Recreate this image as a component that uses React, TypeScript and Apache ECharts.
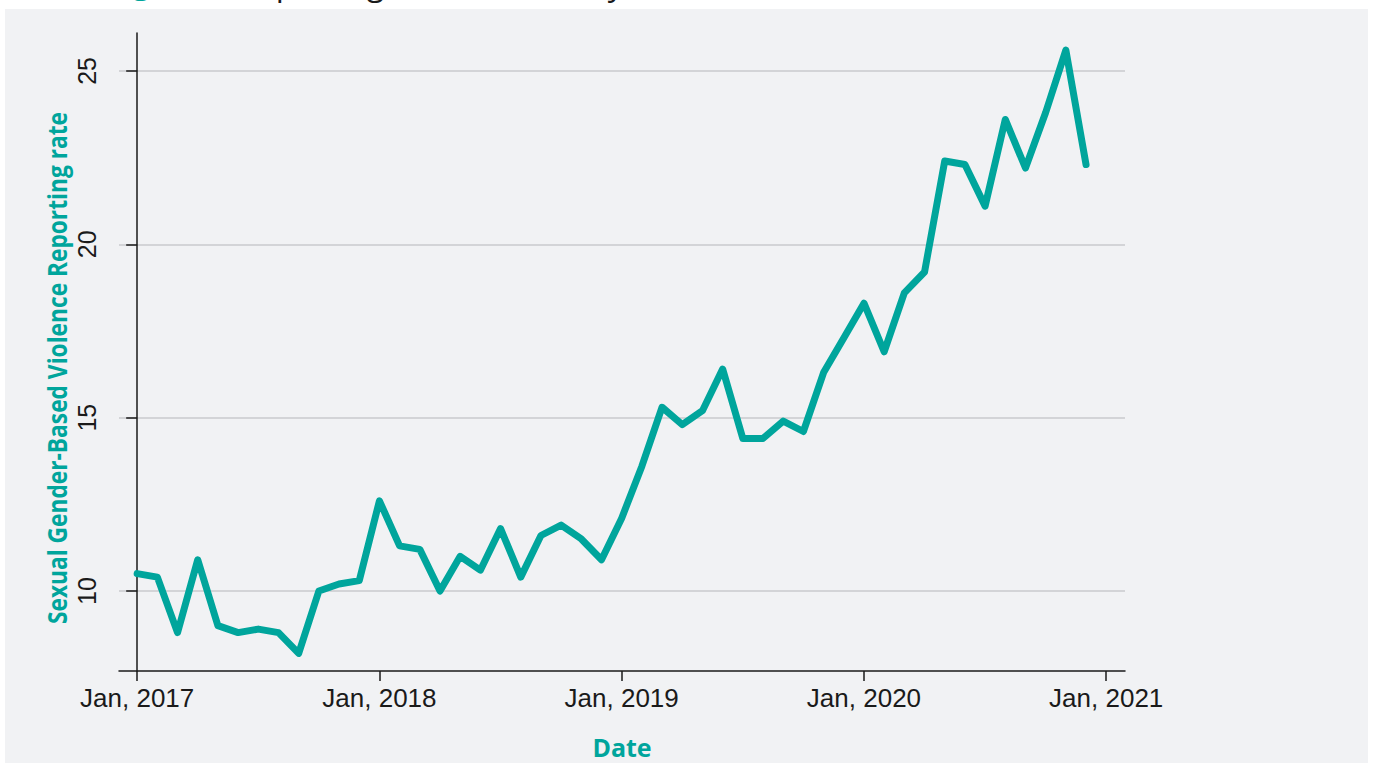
import React, { useEffect, useRef } from "react";
import * as echarts from "echarts";

const months: string[] = [
  "2017-01","2017-02","2017-03","2017-04","2017-05","2017-06","2017-07","2017-08","2017-09","2017-10","2017-11","2017-12",
  "2018-01","2018-02","2018-03","2018-04","2018-05","2018-06","2018-07","2018-08","2018-09","2018-10","2018-11","2018-12",
  "2019-01","2019-02","2019-03","2019-04","2019-05","2019-06","2019-07","2019-08","2019-09","2019-10","2019-11","2019-12",
  "2020-01","2020-02","2020-03","2020-04","2020-05","2020-06","2020-07","2020-08","2020-09","2020-10","2020-11","2020-12",
];

const reportingRate: number[] = [
  10.5, 10.4, 8.8, 10.9, 9.0, 8.8, 8.9, 8.8, 8.2, 10.0, 10.2, 10.3,
  12.6, 11.3, 11.2, 10.0, 11.0, 10.6, 11.8, 10.4, 11.6, 11.9, 11.5, 10.9,
  12.1, 13.6, 15.3, 14.8, 15.2, 16.4, 14.4, 14.4, 14.9, 14.6, 16.3, 17.3,
  18.3, 16.9, 18.6, 19.2, 22.4, 22.3, 21.1, 23.6, 22.2, 23.8, 25.6, 22.3,
];

const xTickMonths: number[] = [0, 12, 24, 36, 48];
const xTickLabels: string[] = ["Jan, 2017", "Jan, 2018", "Jan, 2019", "Jan, 2020", "Jan, 2021"];
const yTicks: number[] = [10, 15, 20, 25];

const yAxisTitle = "Sexual Gender-Based Violence Reporting rate";
const xAxisTitle = "Date";
const figureLabel = "Figure 2";
const figureTitle = "Reporting rate of SGBV by month";

const TEAL = "#00a59c";

export default function App() {
  const ref = useRef<HTMLDivElement>(null);
  useEffect(() => {
    if (!ref.current) return;
    const chart = echarts.init(ref.current, null, { renderer: "svg" });
    chart.setOption({
      animation: false,
      backgroundColor: "#ffffff",
      graphic: [
        {
          type: "rect",
          z: -100,
          silent: true,
          shape: { x: 5, y: 9, width: 1363, height: 760 },
          style: { fill: "#f1f2f4" },
        },
        {
          type: "text",
          x: 106,
          y: -18,
          style: {
            text: figureLabel,
            fill: TEAL,
            font: "bold 31px 'Open Sans', sans-serif",
            align: "left",
            verticalAlign: "middle",
          },
        },
        {
          type: "text",
          x: 238,
          y: -18,
          style: {
            text: figureTitle,
            fill: "#1a1a1a",
            font: "32px 'Open Sans', sans-serif",
            align: "left",
            verticalAlign: "middle",
          },
        },
        {
          type: "text",
          x: 57,
          y: 368,
          rotation: Math.PI / 2,
          scaleX: 0.875,
          style: {
            text: yAxisTitle,
            fill: TEAL,
            font: "bold 26px 'Open Sans', sans-serif",
            align: "center",
            verticalAlign: "middle",
          },
        },
        {
          type: "text",
          x: 622,
          y: 747,
          style: {
            text: xAxisTitle,
            fill: TEAL,
            font: "bold 25px 'Open Sans', sans-serif",
            align: "center",
            verticalAlign: "middle",
          },
        },
      ],
      grid: { left: 119, right: 250, top: 33, bottom: 92 },
      xAxis: {
        type: "value",
        min: -0.9,
        max: 48.93,
        axisLine: { show: true, lineStyle: { color: "#1a1a1a", width: 1.5 } },
        axisTick: {
          show: true,
          customValues: xTickMonths,
          length: 10,
          lineStyle: { color: "#1a1a1a", width: 1.5 },
        },
        axisLabel: {
          customValues: xTickMonths,
          formatter: (v: number) => xTickLabels[xTickMonths.indexOf(Math.round(v))] ?? "",
          fontSize: 26,
          fontFamily: "'Liberation Sans', Arial, sans-serif",
          color: "#1a1a1a",
          margin: 14,
        },
        splitLine: { show: false },
      },
      yAxis: {
        type: "value",
        min: 7.692,
        max: 26.094,
        axisLine: { show: true, lineStyle: { color: "#1a1a1a", width: 1.5 } },
        axisTick: {
          show: true,
          customValues: yTicks,
          length: 11,
          lineStyle: { color: "#1a1a1a", width: 1.5 },
        },
        axisLabel: {
          customValues: yTicks,
          rotate: 90,
          fontSize: 25,
          fontFamily: "'Liberation Sans', Arial, sans-serif",
          color: "#1a1a1a",
          margin: 20,
        },
        splitLine: { show: true, lineStyle: { color: "#d3d4d7", width: 2 } },
      },
      series: [
        {
          type: "line",
          data: months.map((m, i) => [i, reportingRate[i]]),
          showSymbol: false,
          lineStyle: { color: TEAL, width: 7, join: "round", cap: "round" },
          itemStyle: { color: TEAL },
        },
      ],
    });
    return () => chart.dispose();
  }, []);
  return (
    <div
      ref={ref}
      style={{ position: "fixed", left: 0, top: 0, width: "1375px", height: "763px" }}
    />
  );
}
